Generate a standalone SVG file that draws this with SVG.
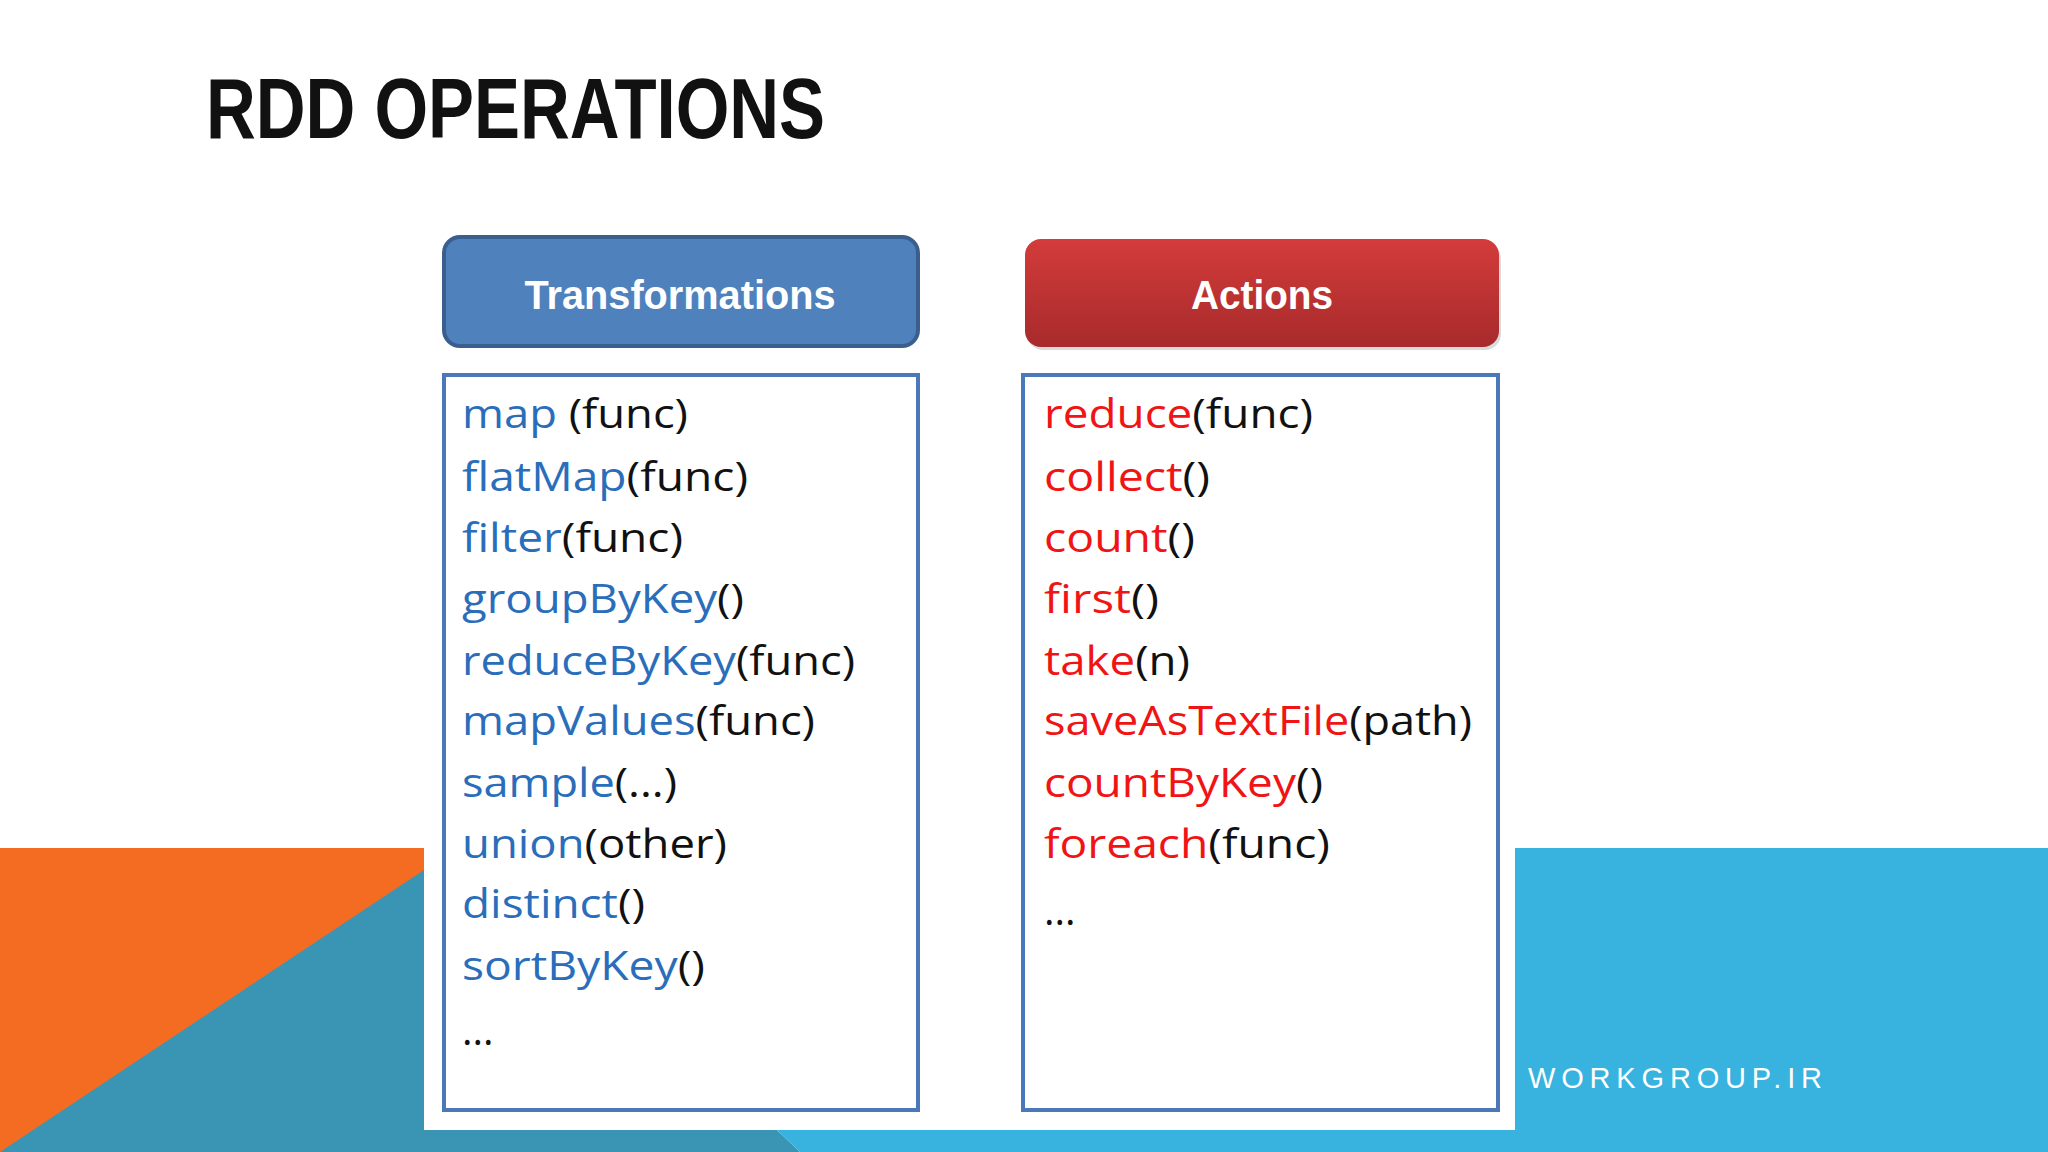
<svg xmlns="http://www.w3.org/2000/svg" width="2048" height="1152" viewBox="0 0 2048 1152">
<defs>
<linearGradient id="red" x1="0" y1="0" x2="0" y2="1"><stop offset="0" stop-color="#D33C3A"/><stop offset="1" stop-color="#A82A2C"/></linearGradient>
<style>
.it{font-family:"Open Sans","Liberation Sans",sans-serif;font-size:40px;fill:#111}
.b{fill:#2A6EBB}.r{fill:#F01414}
.hd{font-family:"Liberation Sans",sans-serif;font-weight:bold;font-size:40px;fill:#fff;text-anchor:middle}
.lst{fill:#fff;stroke:#4A78B8;stroke-width:4}
</style>
</defs>
<rect width="2048" height="1152" fill="#fff"/>
<g id="background">
<rect x="0" y="848" width="424" height="304" fill="#F36C21"/>
<polygon points="424,870 424,1152 0,1152" fill="#3A95B5"/>
<rect x="1515" y="848" width="533" height="304" fill="#38B2DE"/>
<polygon points="424,1130 777,1130 800,1152 424,1152" fill="#3A95B5"/>
<polygon points="777,1130 1515,1130 1515,1152 800,1152" fill="#38B2DE"/>
<rect x="424" y="840" width="1091" height="290" fill="#fff"/>
<text x="1528" y="1088" font-family="Liberation Sans,sans-serif" font-size="29" fill="#fff" textLength="294" lengthAdjust="spacing">WORKGROUP.IR</text>
</g>
<text id="title" x="206" y="138" font-family="Liberation Sans,sans-serif" font-weight="bold" font-size="86" fill="#111" textLength="619" lengthAdjust="spacingAndGlyphs">RDD OPERATIONS</text>
<g id="transformations-header">
<rect x="444" y="237" width="474" height="109" rx="16" fill="#4F81BD" stroke="#3A5F8E" stroke-width="4"/>
<text class="hd" x="680" y="309" textLength="311" lengthAdjust="spacingAndGlyphs">Transformations</text>
</g>
<g id="actions-header">
<rect x="1027" y="243" width="474" height="107" rx="16" fill="#999" opacity="0.35"/>
<rect x="1025" y="239" width="474" height="108" rx="16" fill="url(#red)"/>
<text class="hd" x="1262" y="309" textLength="142" lengthAdjust="spacingAndGlyphs">Actions</text>
</g>
<g id="transformations-list">
<rect class="lst" x="444" y="375" width="474" height="735"/>
<text class="it" x="462" y="428" textLength="226" lengthAdjust="spacingAndGlyphs"><tspan class="b">map</tspan> (func)</text>
<text class="it" x="462" y="491" textLength="286" lengthAdjust="spacingAndGlyphs"><tspan class="b">flatMap</tspan>(func)</text>
<text class="it" x="462" y="552" textLength="221" lengthAdjust="spacingAndGlyphs"><tspan class="b">filter</tspan>(func)</text>
<text class="it" x="462" y="613" textLength="282" lengthAdjust="spacingAndGlyphs"><tspan class="b">groupByKey</tspan>()</text>
<text class="it" x="462" y="675" textLength="393" lengthAdjust="spacingAndGlyphs"><tspan class="b">reduceByKey</tspan>(func)</text>
<text class="it" x="462" y="735" textLength="353" lengthAdjust="spacingAndGlyphs"><tspan class="b">mapValues</tspan>(func)</text>
<text class="it" x="462" y="797" textLength="215" lengthAdjust="spacingAndGlyphs"><tspan class="b">sample</tspan>(...)</text>
<text class="it" x="462" y="858" textLength="265" lengthAdjust="spacingAndGlyphs"><tspan class="b">union</tspan>(other)</text>
<text class="it" x="462" y="918" textLength="183" lengthAdjust="spacingAndGlyphs"><tspan class="b">distinct</tspan>()</text>
<text class="it" x="462" y="980" textLength="243" lengthAdjust="spacingAndGlyphs"><tspan class="b">sortByKey</tspan>()</text>
<text class="it" x="462" y="1045">...</text>
</g>
<g id="actions-list">
<rect class="lst" x="1023" y="375" width="475" height="735"/>
<text class="it" x="1044" y="428" textLength="269" lengthAdjust="spacingAndGlyphs"><tspan class="r">reduce</tspan>(func)</text>
<text class="it" x="1044" y="491" textLength="166" lengthAdjust="spacingAndGlyphs"><tspan class="r">collect</tspan>()</text>
<text class="it" x="1044" y="552" textLength="151" lengthAdjust="spacingAndGlyphs"><tspan class="r">count</tspan>()</text>
<text class="it" x="1044" y="613" textLength="115" lengthAdjust="spacingAndGlyphs"><tspan class="r">first</tspan>()</text>
<text class="it" x="1044" y="675" textLength="146" lengthAdjust="spacingAndGlyphs"><tspan class="r">take</tspan>(n)</text>
<text class="it" x="1044" y="735" textLength="428" lengthAdjust="spacingAndGlyphs"><tspan class="r">saveAsTextFile</tspan>(path)</text>
<text class="it" x="1044" y="797" textLength="279" lengthAdjust="spacingAndGlyphs"><tspan class="r">countByKey</tspan>()</text>
<text class="it" x="1044" y="858" textLength="286" lengthAdjust="spacingAndGlyphs"><tspan class="r">foreach</tspan>(func)</text>
<text class="it" x="1044" y="925">...</text>
</g>
<g id="connectors"/>
</svg>
